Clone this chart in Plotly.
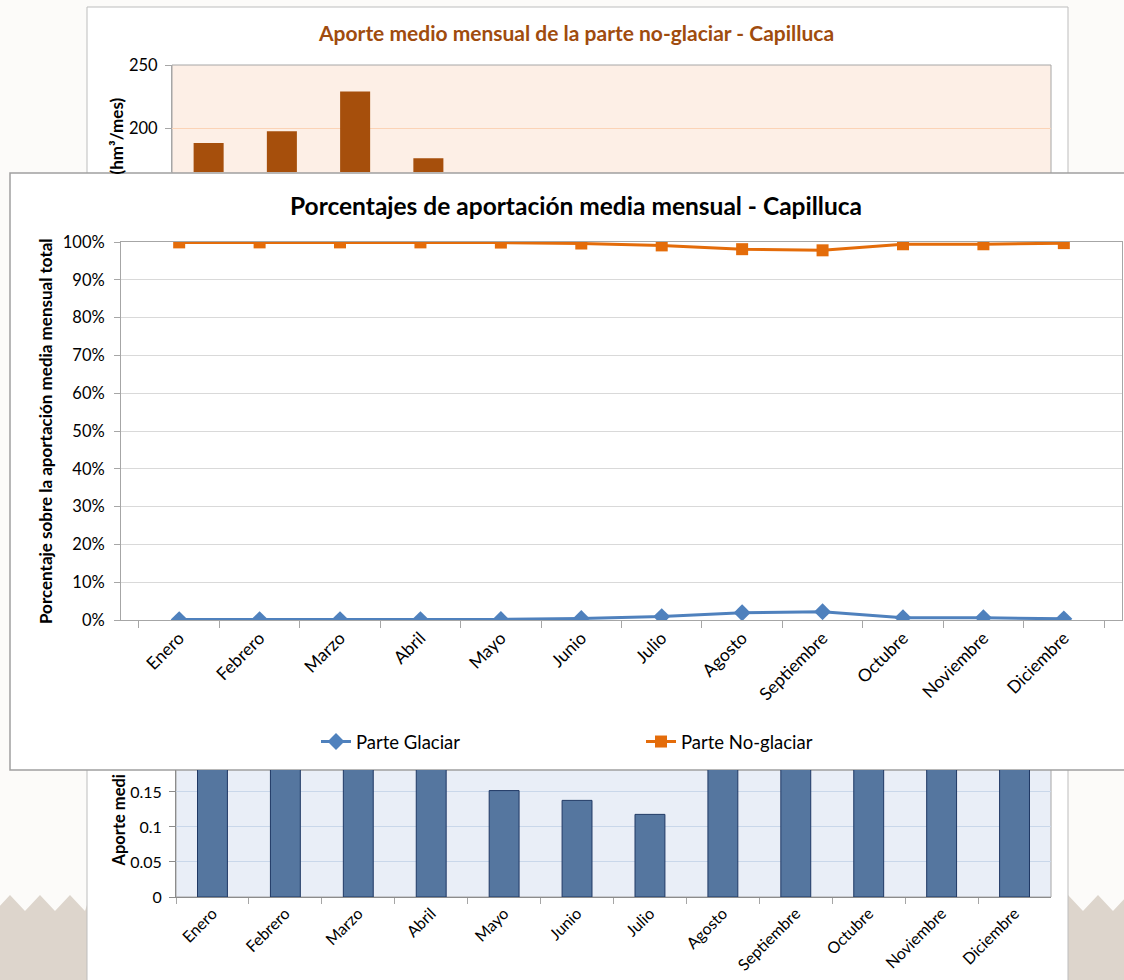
import plotly.graph_objects as go

W, H = 1124, 980

meses = ["Enero", "Febrero", "Marzo", "Abril", "Mayo", "Junio", "Julio",
         "Agosto", "Septiembre", "Octubre", "Noviembre", "Diciembre"]

# Porcentajes (middle chart)
pct_glaciar = [0.1, 0.1, 0.1, 0.1, 0.15, 0.4, 0.9, 1.9, 2.2, 0.6, 0.6, 0.3]
pct_no_glaciar = [99.9, 99.9, 99.9, 99.9, 99.85, 99.6, 99.1, 98.1, 97.8, 99.4, 99.4, 99.7]

# Aporte medio mensual parte no-glaciar (top chart, partially hidden)
aporte_no_glaciar = [188, 197.5, 229, 176, 120, 80, 65, 60, 70, 95, 120, 160]

# Aporte medio mensual parte glaciar (bottom chart, partially hidden)
aporte_glaciar = [0.24, 0.26, 0.29, 0.22, 0.152, 0.138, 0.118, 0.20, 0.21, 0.22, 0.23, 0.25]

FONT = "Lato"


def fx(x):
    return x / W


def fy(y):
    return 1 - y / H


fig = go.Figure()

# ---- middle chart lines ----
fig.add_trace(go.Scatter(
    x=meses, y=pct_glaciar, name="Parte Glaciar", mode="lines+markers",
    line=dict(color="#4f81bd", width=3),
    marker=dict(symbol="diamond", size=13, color="#4f81bd"),
    xaxis="x", yaxis="y"))
fig.add_trace(go.Scatter(
    x=meses, y=pct_no_glaciar, name="Parte No-glaciar", mode="lines+markers",
    line=dict(color="#e46c0a", width=3),
    marker=dict(symbol="square", size=12, color="#e46c0a"),
    xaxis="x", yaxis="y"))

# ---- top chart bars ----
fig.add_trace(go.Bar(
    x=meses, y=aporte_no_glaciar, width=0.41, showlegend=False,
    marker=dict(color="#a64f0c", line=dict(width=0)),
    xaxis="x2", yaxis="y2"))

# ---- bottom chart bars ----
fig.add_trace(go.Bar(
    x=meses, y=aporte_glaciar, width=0.41, showlegend=False,
    marker=dict(color="#55769f", line=dict(color="#1f3864", width=1)),
    xaxis="x3", yaxis="y3"))


def rect(x0, y0, x1, y1, fill, line="#b0b0b0", lw=1):
    return dict(type="rect", xref="paper", yref="paper", layer="below",
                x0=fx(x0), x1=fx(x1), y0=fy(y1), y1=fy(y0),
                fillcolor=fill, line=dict(color=line, width=lw))


def zigzag(xa, xb, phase):
    pts = [(xa, H + 5)]
    x = xa
    up = phase
    while x <= xb:
        pts.append((x, 895 if up else 911))
        x += 15
        up = not up
    pts.append((xb, 905))
    pts.append((xb, H + 5))
    d = "M " + " L ".join(f"{fx(a):.5f},{fy(b):.5f}" for a, b in pts) + " Z"
    return dict(type="path", xref="paper", yref="paper", layer="below",
                path=d, fillcolor="#ddd5cc", line=dict(width=0))


shapes = [
    zigzag(-5, 87, False),
    zigzag(1068, 1130, True),
    rect(87, 7, 1068, 180, "#ffffff", "#bdbdbd", 1),      # top box
    rect(87, 765, 1068, 990, "#ffffff", "#bdbdbd", 1),    # bottom box
    rect(172, 65, 1051, 180, "#fdefe6", "#a6a6a6", 1),    # top plot area
    rect(176, 760, 1051, 897, "#e9eef7", "#a6a6a6", 1),   # bottom plot area
    rect(10, 173, 1135, 770, "#ffffff", "#a0a0a0", 1.5),  # middle box
]

annotations = [
    dict(text="<b>Aporte medio mensual de la parte no-glaciar - Capilluca</b>",
         x=fx(576), y=fy(33), xref="paper", yref="paper", showarrow=False,
         xanchor="center", yanchor="middle",
         font=dict(family=FONT, size=21, color="#9f4c0e")),
    dict(text="<b>(hm³/mes)</b>", x=fx(116), y=fy(177), xref="paper", yref="paper",
         showarrow=False, textangle=-90, xanchor="center", yanchor="bottom",
         font=dict(family=FONT, size=17, color="#000000")),
    dict(text="<b>Porcentajes de aportación media mensual - Capilluca</b>",
         x=fx(576), y=fy(206), xref="paper", yref="paper", showarrow=False,
         xanchor="center", yanchor="middle",
         font=dict(family=FONT, size=24.5, color="#000000")),
    dict(text="<b>Porcentaje sobre la aportación media mensual total</b>",
         x=fx(45), y=fy(431), xref="paper", yref="paper", showarrow=False,
         xanchor="center", yanchor="middle",
         textangle=-90, font=dict(family=FONT, size=17, color="#000000")),
    dict(text="<b>Aporte medi</b>", x=fx(118), y=fy(869), xref="paper", yref="paper",
         showarrow=False, textangle=-90, xanchor="center", yanchor="bottom",
         font=dict(family=FONT, size=16.5, color="#000000")),
]

fig.update_layout(
    template="none",
    width=W, height=H, margin=dict(l=0, r=0, t=0, b=0, autoexpand=False),
    paper_bgcolor="#fcfbf9", plot_bgcolor="rgba(0,0,0,0)",
    font=dict(family=FONT, color="#000000"),
    shapes=shapes, annotations=annotations,
    showlegend=True,
    legend=dict(orientation="h", x=fx(316), y=fy(742), xanchor="left", yanchor="middle",
                font=dict(family=FONT, size=18.5), entrywidth=280, entrywidthmode="pixels",
                bgcolor="rgba(0,0,0,0)"),
    # middle chart axes
    xaxis=dict(domain=[fx(121), fx(1122)], anchor="y", type="category", automargin=False,
               showline=True, linecolor="#a6a6a6", linewidth=1, mirror=True,
               ticks="outside", tickson="boundaries", ticklen=7, tickcolor="#a6a6a6",
               tickangle=-45, tickfont=dict(size=17.5), showgrid=False, zeroline=False),
    yaxis=dict(domain=[fy(620), fy(242)], anchor="x", range=[0, 100], dtick=10,
               ticksuffix="%", showline=True, linecolor="#a6a6a6", mirror=True,
               automargin=False, ticklabelstandoff=6,
               ticks="outside", ticklen=6, tickcolor="#a6a6a6",
               tickfont=dict(size=16.5), showgrid=True, gridcolor="#d9d9d9", zeroline=False),
    # top chart axes
    xaxis2=dict(domain=[fx(172), fx(1051)], anchor="y2", type="category", automargin=False,
                showticklabels=False, showgrid=False, zeroline=False, showline=False),
    yaxis2=dict(domain=[fy(172), fy(65)], anchor="x2", range=[165.08, 250],
                tickvals=[200, 250], showline=True, linecolor="#a6a6a6", automargin=False,
                ticks="outside", ticklen=6, tickcolor="#a6a6a6", ticklabelstandoff=4,
                tickfont=dict(size=16.5), showgrid=True, gridcolor="#fbd3b6", zeroline=False),
    # bottom chart axes
    xaxis3=dict(domain=[fx(176), fx(1051)], anchor="y3", type="category", automargin=False,
                showline=True, linecolor="#8c8c8c", ticks="outside", tickson="boundaries",
                ticklen=6, tickcolor="#a6a6a6", tickangle=-45, tickfont=dict(size=16),
                showgrid=False, zeroline=False),
    yaxis3=dict(domain=[fy(897), fy(770)], anchor="x3", range=[0, 0.1814],
                tickvals=[0, 0.05, 0.1, 0.15], ticktext=["0", "0.05", "0.1", "0.15"],
                showline=True, linecolor="#8c8c8c", ticks="outside", ticklen=6,
                automargin=False, ticklabelstandoff=4,
                tickcolor="#8c8c8c", tickfont=dict(size=16),
                showgrid=True, gridcolor="#c9d7ea", zeroline=False),
)

fig.write_html("out.html")
